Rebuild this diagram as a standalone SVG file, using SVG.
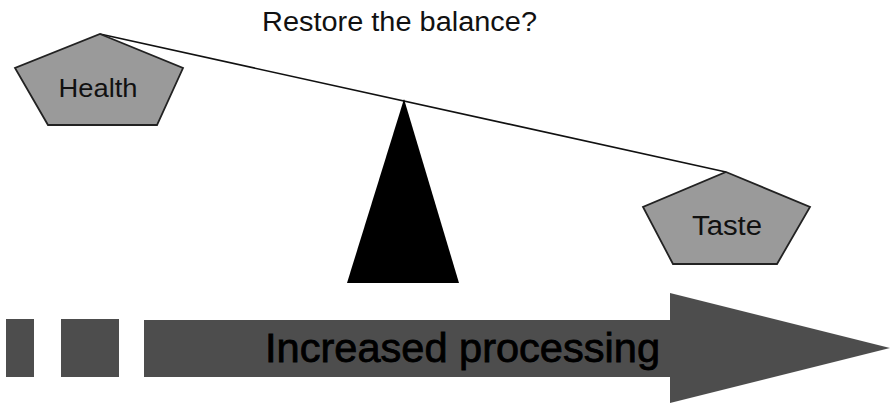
<svg xmlns="http://www.w3.org/2000/svg" width="891" height="404" viewBox="0 0 891 404">
  <style>
    text { font-family: "Liberation Sans", Arial, sans-serif; fill: #111; }
    .pent { fill: #9a9a9a; stroke: #222; stroke-width: 1.8; stroke-linejoin: miter; }
    .dark { fill: #4d4d4d; }
  </style>
  <rect width="891" height="404" fill="#ffffff"/>
  <text x="262" y="31" font-size="27" textLength="275" lengthAdjust="spacingAndGlyphs">Restore the balance?</text>
  <g id="connectors">
    <line x1="100" y1="34" x2="726" y2="172" stroke="#111" stroke-width="1.6"/>
  </g>
  <g id="fulcrum">
    <polygon points="404,99 347,283 459,283" fill="#000"/>
  </g>
  <g id="health">
    <polygon class="pent" points="100,34 183,68 157,125 48,125 15,68"/>
    <text x="98" y="97" font-size="25" text-anchor="middle" textLength="79" lengthAdjust="spacingAndGlyphs">Health</text>
  </g>
  <g id="taste">
    <polygon class="pent" points="726,172 810,207 777,264 673,264 643,207"/>
    <text x="727" y="235" font-size="27" text-anchor="middle" textLength="70" lengthAdjust="spacingAndGlyphs">Taste</text>
  </g>
  <g id="process">
    <rect class="dark" x="6" y="319" width="28" height="58"/>
    <rect class="dark" x="61" y="319" width="58" height="58"/>
    <polygon class="dark" points="144,320 670,320 670,293 890,348 670,403 670,377 144,377"/>
    <text x="265" y="362" font-size="41" textLength="395" lengthAdjust="spacingAndGlyphs" style="fill:#000;stroke:#000;stroke-width:0.8">Increased processing</text>
  </g>
</svg>
